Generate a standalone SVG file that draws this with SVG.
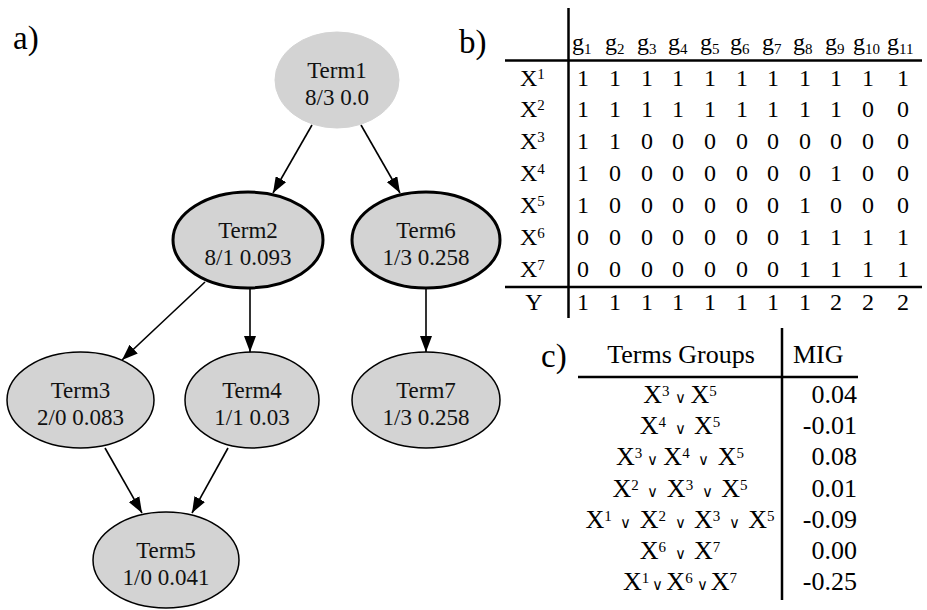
<svg xmlns="http://www.w3.org/2000/svg" width="927" height="610" viewBox="0 0 927 610">
<defs>
<marker id="arr" viewBox="0 0 16 12" refX="16" refY="6" markerWidth="16" markerHeight="12" orient="auto" markerUnits="userSpaceOnUse">
<path d="M0,0 L16,6 L0,12 z" fill="#000"/>
</marker>
</defs>
<rect width="927" height="610" fill="#fff"/>
<g id="labels">
<text font-family="'Liberation Serif', serif" font-size="33" x="13" y="49">a)</text>
<text font-family="'Liberation Serif', serif" font-size="33" x="459" y="53">b)</text>
<text font-family="'Liberation Serif', serif" font-size="33" x="541" y="367">c)</text>
</g>

<g id="connectors" stroke="#000" stroke-width="1.6" fill="none" marker-end="url(#arr)">
<line x1="312" y1="125" x2="273" y2="193"/>
<line x1="361" y1="125" x2="400" y2="193"/>
<line x1="205" y1="282" x2="122" y2="360"/>
<line x1="250" y1="288" x2="250" y2="352"/>
<line x1="426" y1="288" x2="426" y2="352"/>
<line x1="105" y1="448" x2="142" y2="513"/>
<line x1="228" y1="448" x2="192" y2="513"/>
</g>

<g id="term1">
<ellipse cx="337" cy="80" rx="62" ry="48" fill="#d3d3d3" stroke="#d3d3d3"/>
<text font-family="'Liberation Serif', serif" font-size="23" text-anchor="middle" fill="#111" x="337" y="78">Term1</text>
<text font-family="'Liberation Serif', serif" font-size="23" text-anchor="middle" fill="#111" x="337" y="105">8/3 0.0</text>
</g>
<g id="term2">
<ellipse cx="248" cy="240" rx="75" ry="48" fill="#d3d3d3" stroke="#000" stroke-width="3"/>
<text font-family="'Liberation Serif', serif" font-size="23" text-anchor="middle" fill="#111" x="248" y="238">Term2</text>
<text font-family="'Liberation Serif', serif" font-size="23" text-anchor="middle" fill="#111" x="248" y="265">8/1 0.093</text>
</g>
<g id="term6">
<ellipse cx="426" cy="240" rx="74" ry="48" fill="#d3d3d3" stroke="#000" stroke-width="3"/>
<text font-family="'Liberation Serif', serif" font-size="23" text-anchor="middle" fill="#111" x="426" y="238">Term6</text>
<text font-family="'Liberation Serif', serif" font-size="23" text-anchor="middle" fill="#111" x="426" y="265">1/3 0.258</text>
</g>
<g id="term3">
<ellipse cx="80.5" cy="400" rx="73.5" ry="48" fill="#d3d3d3" stroke="#000" stroke-width="1.5"/>
<text font-family="'Liberation Serif', serif" font-size="23" text-anchor="middle" fill="#111" x="80.5" y="398">Term3</text>
<text font-family="'Liberation Serif', serif" font-size="23" text-anchor="middle" fill="#111" x="80.5" y="425">2/0 0.083</text>
</g>
<g id="term4">
<ellipse cx="252" cy="400" rx="67" ry="48" fill="#d3d3d3" stroke="#000" stroke-width="1.5"/>
<text font-family="'Liberation Serif', serif" font-size="23" text-anchor="middle" fill="#111" x="252" y="398">Term4</text>
<text font-family="'Liberation Serif', serif" font-size="23" text-anchor="middle" fill="#111" x="252" y="425">1/1 0.03</text>
</g>
<g id="term7">
<ellipse cx="426" cy="400" rx="74" ry="48" fill="#d3d3d3" stroke="#000" stroke-width="1.5"/>
<text font-family="'Liberation Serif', serif" font-size="23" text-anchor="middle" fill="#111" x="426" y="398">Term7</text>
<text font-family="'Liberation Serif', serif" font-size="23" text-anchor="middle" fill="#111" x="426" y="425">1/3 0.258</text>
</g>
<g id="term5">
<ellipse cx="166" cy="560" rx="73" ry="48" fill="#d3d3d3" stroke="#000" stroke-width="1.5"/>
<text font-family="'Liberation Serif', serif" font-size="23" text-anchor="middle" fill="#111" x="166" y="558">Term5</text>
<text font-family="'Liberation Serif', serif" font-size="23" text-anchor="middle" fill="#111" x="166" y="585">1/0 0.041</text>
</g>

<g id="table-b">
<g stroke="#000" stroke-width="2.5">
<line x1="568.5" y1="8" x2="568.5" y2="318"/>
<line x1="505" y1="60.5" x2="922" y2="60.5"/>
<line x1="505" y1="287" x2="922" y2="287"/>
</g>
<text font-family="'Liberation Serif', serif" font-size="24" y="50"><tspan x="572">g</tspan><tspan font-size="15" dy="4">1</tspan><tspan x="605" dy="-4">g</tspan><tspan font-size="15" dy="4">2</tspan><tspan x="637" dy="-4">g</tspan><tspan font-size="15" dy="4">3</tspan><tspan x="668" dy="-4">g</tspan><tspan font-size="15" dy="4">4</tspan><tspan x="700" dy="-4">g</tspan><tspan font-size="15" dy="4">5</tspan><tspan x="730" dy="-4">g</tspan><tspan font-size="15" dy="4">6</tspan><tspan x="762" dy="-4">g</tspan><tspan font-size="15" dy="4">7</tspan><tspan x="793" dy="-4">g</tspan><tspan font-size="15" dy="4">8</tspan><tspan x="825" dy="-4">g</tspan><tspan font-size="15" dy="4">9</tspan><tspan x="853" dy="-4">g</tspan><tspan font-size="15" dy="4">10</tspan><tspan x="887" dy="-4">g</tspan><tspan font-size="15" dy="4">11</tspan></text>
<text font-family="'Liberation Serif', serif" font-size="24" x="520" y="86">X<tspan font-size="15" dy="-7">1</tspan></text>
<text font-family="'Liberation Serif', serif" font-size="24" x="520" y="117">X<tspan font-size="15" dy="-7">2</tspan></text>
<text font-family="'Liberation Serif', serif" font-size="24" x="520" y="149">X<tspan font-size="15" dy="-7">3</tspan></text>
<text font-family="'Liberation Serif', serif" font-size="24" x="520" y="181">X<tspan font-size="15" dy="-7">4</tspan></text>
<text font-family="'Liberation Serif', serif" font-size="24" x="520" y="213">X<tspan font-size="15" dy="-7">5</tspan></text>
<text font-family="'Liberation Serif', serif" font-size="24" x="520" y="245">X<tspan font-size="15" dy="-7">6</tspan></text>
<text font-family="'Liberation Serif', serif" font-size="24" x="520" y="277">X<tspan font-size="15" dy="-7">7</tspan></text>
<text font-family="'Liberation Serif', serif" font-size="24" text-anchor="middle" x="534" y="310">Y</text>
<text font-family="'Liberation Serif', serif" font-size="24" text-anchor="middle" x="583 615 647 678 710 742 773 805 836 868 903" y="86">11111111111</text>
<text font-family="'Liberation Serif', serif" font-size="24" text-anchor="middle" x="583 615 647 678 710 742 773 805 836 868 903" y="117">11111111100</text>
<text font-family="'Liberation Serif', serif" font-size="24" text-anchor="middle" x="583 615 647 678 710 742 773 805 836 868 903" y="149">11000000000</text>
<text font-family="'Liberation Serif', serif" font-size="24" text-anchor="middle" x="583 615 647 678 710 742 773 805 836 868 903" y="181">10000000100</text>
<text font-family="'Liberation Serif', serif" font-size="24" text-anchor="middle" x="583 615 647 678 710 742 773 805 836 868 903" y="213">10000001000</text>
<text font-family="'Liberation Serif', serif" font-size="24" text-anchor="middle" x="583 615 647 678 710 742 773 805 836 868 903" y="245">00000001111</text>
<text font-family="'Liberation Serif', serif" font-size="24" text-anchor="middle" x="583 615 647 678 710 742 773 805 836 868 903" y="277">00000001111</text>
<text font-family="'Liberation Serif', serif" font-size="24" text-anchor="middle" x="583 615 647 678 710 742 773 805 836 868 903" y="310">11111111222</text>
</g>

<g id="table-c">
<g stroke="#000" stroke-width="2.5">
<line x1="782" y1="328" x2="782" y2="600"/>
<line x1="578" y1="377" x2="858" y2="377"/>
</g>
<text font-family="'Liberation Serif', serif" font-size="26" x="681" y="363" text-anchor="middle">Terms Groups</text>
<text font-family="'Liberation Serif', serif" font-size="26" x="793" y="363">MIG</text>
<text font-family="'Liberation Serif', serif" font-size="26" x="680" y="403" text-anchor="middle">X<tspan font-size="15" dy="-7">3</tspan><tspan font-size="15" dy="7" dx="5">∨</tspan><tspan dx="5">X</tspan><tspan font-size="15" dy="-7">5</tspan></text>
<text font-family="'Liberation Serif', serif" font-size="26" x="680" y="434" text-anchor="middle">X<tspan font-size="15" dy="-7">4</tspan><tspan font-size="15" dy="7" dx="8.5">∨</tspan><tspan dx="8.5">X</tspan><tspan font-size="15" dy="-7">5</tspan></text>
<text font-family="'Liberation Serif', serif" font-size="26" x="680" y="465" text-anchor="middle">X<tspan font-size="15" dy="-7">3</tspan><tspan font-size="15" dy="7" dx="5">∨</tspan><tspan dx="5">X</tspan><tspan font-size="15" dy="-7">4</tspan><tspan font-size="15" dy="7" dx="8.5">∨</tspan><tspan dx="8.5">X</tspan><tspan font-size="15" dy="-7">5</tspan></text>
<text font-family="'Liberation Serif', serif" font-size="26" x="680" y="497" text-anchor="middle">X<tspan font-size="15" dy="-7">2</tspan><tspan font-size="15" dy="7" dx="8.5">∨</tspan><tspan dx="8.5">X</tspan><tspan font-size="15" dy="-7">3</tspan><tspan font-size="15" dy="7" dx="8.5">∨</tspan><tspan dx="8.5">X</tspan><tspan font-size="15" dy="-7">5</tspan></text>
<text font-family="'Liberation Serif', serif" font-size="26" x="680" y="528" text-anchor="middle">X<tspan font-size="15" dy="-7">1</tspan><tspan font-size="15" dy="7" dx="8.5">∨</tspan><tspan dx="8.5">X</tspan><tspan font-size="15" dy="-7">2</tspan><tspan font-size="15" dy="7" dx="8.5">∨</tspan><tspan dx="8.5">X</tspan><tspan font-size="15" dy="-7">3</tspan><tspan font-size="15" dy="7" dx="8.5">∨</tspan><tspan dx="8.5">X</tspan><tspan font-size="15" dy="-7">5</tspan></text>
<text font-family="'Liberation Serif', serif" font-size="26" x="680" y="559" text-anchor="middle">X<tspan font-size="15" dy="-7">6</tspan><tspan font-size="15" dy="7" dx="8.5">∨</tspan><tspan dx="8.5">X</tspan><tspan font-size="15" dy="-7">7</tspan></text>
<text font-family="'Liberation Serif', serif" font-size="26" x="680" y="590" text-anchor="middle">X<tspan font-size="15" dy="-7">1</tspan><tspan font-size="15" dy="7" dx="3">∨</tspan><tspan dx="3">X</tspan><tspan font-size="15" dy="-7">6</tspan><tspan font-size="15" dy="7" dx="4">∨</tspan><tspan dx="3">X</tspan><tspan font-size="15" dy="-7">7</tspan></text>
<text font-family="'Liberation Serif', serif" font-size="26" x="857" y="403" text-anchor="end">0.04</text>
<text font-family="'Liberation Serif', serif" font-size="26" x="857" y="434" text-anchor="end">-0.01</text>
<text font-family="'Liberation Serif', serif" font-size="26" x="857" y="465" text-anchor="end">0.08</text>
<text font-family="'Liberation Serif', serif" font-size="26" x="857" y="497" text-anchor="end">0.01</text>
<text font-family="'Liberation Serif', serif" font-size="26" x="857" y="528" text-anchor="end">-0.09</text>
<text font-family="'Liberation Serif', serif" font-size="26" x="857" y="559" text-anchor="end">0.00</text>
<text font-family="'Liberation Serif', serif" font-size="26" x="857" y="590" text-anchor="end">-0.25</text>
</g>
</svg>
